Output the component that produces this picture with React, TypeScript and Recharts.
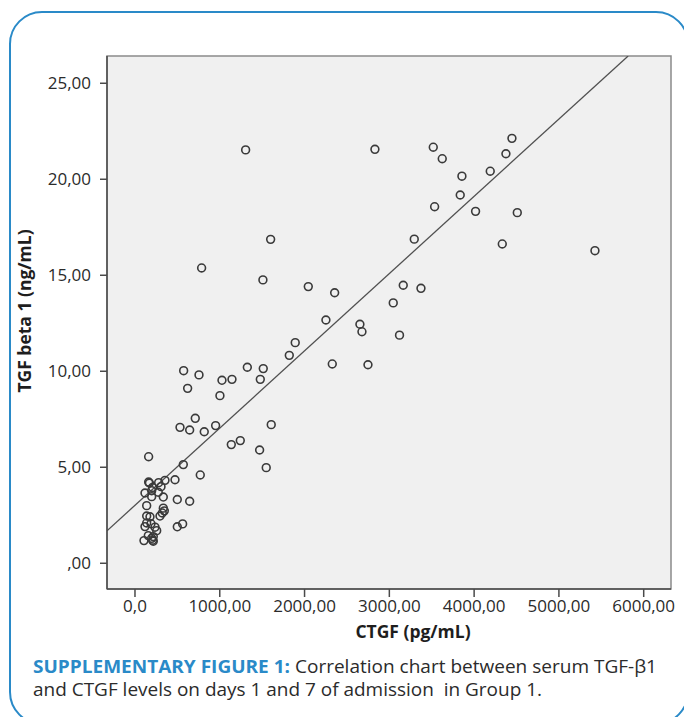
import React from 'react';
import { ScatterChart, Scatter, XAxis, YAxis, ReferenceArea, ReferenceLine, Label } from 'recharts';

// CTGF (pg/mL) values of each patient/day
const ctgf: number[] = [
  1305, 2830, 1600, 786, 1509, 2044, 2355, 3518, 3624, 4446,
  4375, 4190, 3856, 3836, 3534, 4017, 4509, 4332, 3294, 5425,
  3164, 3373, 3046, 3120, 2252, 2653, 2677, 1890, 1820, 2327,
  2748, 574, 755, 1325, 1513, 1026, 1144, 1478, 621, 1002,
  711, 531, 645, 817, 951, 1607, 1136, 1242, 1470, 1548,
  161, 570, 770, 472, 354, 499, 645, 499, 562, 161,
  170, 279, 208, 307, 118, 197, 275, 334, 197, 138,
  334, 346, 295, 322, 138, 177, 138, 189, 236, 256,
  118, 157, 197, 106, 216, 208, 216,
];
// TGF beta 1 (ng/mL) values, same order
const tgfBeta1: number[] = [
  21.53, 21.56, 16.87, 15.38, 14.76, 14.41, 14.09, 21.67, 21.07, 22.13,
  21.33, 20.42, 20.16, 19.18, 18.57, 18.33, 18.26, 16.63, 16.88, 16.28,
  14.48, 14.32, 13.56, 11.88, 12.67, 12.45, 12.06, 11.49, 10.83, 10.38,
  10.34, 10.03, 9.81, 10.21, 10.14, 9.53, 9.58, 9.58, 9.11, 8.73,
  7.55, 7.08, 6.94, 6.85, 7.17, 7.22, 6.18, 6.39, 5.9, 4.98,
  5.55, 5.14, 4.6, 4.35, 4.32, 3.32, 3.23, 1.9, 2.05, 4.23,
  4.18, 4.2, 3.95, 3.99, 3.66, 3.78, 3.7, 3.45, 3.47, 3.0,
  2.87, 2.73, 2.46, 2.62, 2.46, 2.42, 2.1, 2.06, 1.88, 1.7,
  1.91, 1.44, 1.3, 1.18, 1.15, 1.2, 1.39,
];

const xTicks: number[] = [0, 1000, 2000, 3000, 4000, 5000, 6000];
const xTickLabels: string[] = ['0,0', '1000,00', '2000,00', '3000,00', '4000,00', '5000,00', '6000,00'];
const yTicks: number[] = [0, 5, 10, 15, 20, 25];
const yTickLabels: string[] = [',00', '5,00', '10,00', '15,00', '20,00', '25,00'];

// linear fit line
const fitIntercept = 3.02;
const fitSlope = 0.004023;

const X_MIN = -330;
const X_MAX = 6322;
const Y_MIN = -1.34;
const Y_MAX = 26.42;

const data = ctgf.map((x, i) => ({ x, y: tgfBeta1[i] }));
const fitSegment = [
  { x: X_MIN, y: fitIntercept + fitSlope * X_MIN },
  { x: (Y_MAX - fitIntercept) / fitSlope, y: Y_MAX },
];

const FONT = '"Open Sans", "DejaVu Sans", sans-serif';
const BLUE = '#2a8ac8';

const Ring = (props: any) => (
  <circle cx={props.cx} cy={props.cy} r={3.9} fill="none" stroke="#3a3a3a" strokeWidth={1.6} />
);

export default function App() {
  return (
    <div style={{ position: 'absolute', left: 0, top: 0, width: 684, height: 717, background: '#fff', overflow: 'hidden' }}>
      <ScatterChart
        width={684}
        height={717}
        margin={{ top: 56, right: 13, bottom: 0, left: 0 }}
        style={{ position: 'absolute', left: 0, top: 0 }}
      >
        <XAxis
          type="number"
          dataKey="x"
          domain={[X_MIN, X_MAX]}
          allowDataOverflow
          ticks={xTicks}
          tickFormatter={(v: number) => xTickLabels[xTicks.indexOf(v)] ?? String(v)}
          height={128}
          tickSize={8}
          tickMargin={3}
          axisLine={{ stroke: '#4a4a4a', strokeWidth: 1.5 }}
          tickLine={{ stroke: '#4a4a4a', strokeWidth: 1.5 }}
          tick={{ fill: '#2b2b2b', fontSize: 17, fontFamily: FONT }}
        >
          <Label
            content={() => (
              <text x={413} y={638} textAnchor="middle" fontFamily={FONT} fontWeight="bold" fontSize={17.5} fill="#1e1e1e">
                CTGF (pg/mL)
              </text>
            )}
          />
        </XAxis>
        <YAxis
          type="number"
          dataKey="y"
          domain={[Y_MIN, Y_MAX]}
          allowDataOverflow
          ticks={yTicks}
          tickFormatter={(v: number) => yTickLabels[yTicks.indexOf(v)] ?? String(v)}
          width={107}
          tickSize={7}
          tickMargin={9}
          axisLine={{ stroke: '#4a4a4a', strokeWidth: 1.5 }}
          tickLine={{ stroke: '#4a4a4a', strokeWidth: 1.5 }}
          tick={{ fill: '#2b2b2b', fontSize: 17, fontFamily: FONT }}
        >
          <Label
            content={() => (
              <text x={31} y={311} transform="rotate(-90 31 311)" textAnchor="middle" fontFamily={FONT} fontWeight="bold" fontSize={17.5} fill="#1e1e1e">
                TGF beta 1 (ng/mL)
              </text>
            )}
          />
        </YAxis>
        <ReferenceArea
          x1={X_MIN}
          x2={X_MAX}
          y1={Y_MIN}
          y2={Y_MAX}
          fill="#f0f0f0"
          fillOpacity={1}
          stroke="#8a8a8a"
          strokeWidth={1.5}
        />
        <ReferenceLine segment={fitSegment} stroke="#505050" strokeWidth={1.3} ifOverflow="hidden" />
        <Scatter data={data} shape={Ring} isAnimationActive={false} />
      </ScatterChart>
      <svg width={684} height={717} style={{ position: 'absolute', left: 0, top: 0, pointerEvents: 'none' }}>
        <rect x={10} y={12} width={678} height={712} rx={32} ry={32} fill="none" stroke={BLUE} strokeWidth={2} />
        <text x={33} y={673} fontFamily={FONT} fontSize={18} fill="#2b2b2b" textLength={624} lengthAdjust="spacingAndGlyphs">
          <tspan fill={BLUE} fontWeight="bold">SUPPLEMENTARY FIGURE 1:</tspan>
          <tspan> Correlation chart between serum TGF-β1</tspan>
        </text>
        <text x={33} y={696} fontFamily={FONT} fontSize={18} fill="#2b2b2b" textLength={509} lengthAdjust="spacingAndGlyphs" style={{ whiteSpace: 'pre' }}>
          and CTGF levels on days 1 and 7 of admission  in Group 1.
        </text>
      </svg>
    </div>
  );
}
